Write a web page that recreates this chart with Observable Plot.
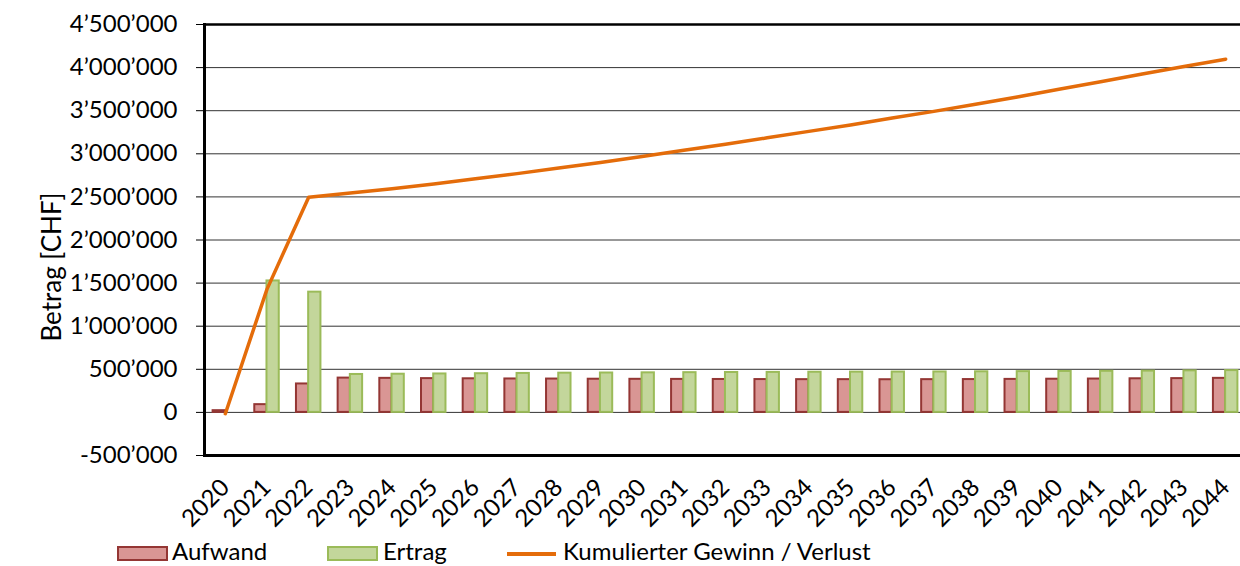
<!DOCTYPE html>
<html>
<head>
<meta charset="utf-8">
<script src="https://cdn.jsdelivr.net/npm/d3@7"></script>
<script src="https://cdn.jsdelivr.net/npm/@observablehq/plot@0.6"></script>
<style>
  html, body { margin: 0; padding: 0; background: #fff; overflow: hidden; width: 1240px; height: 566px; }
  #chart svg { display: block; }
  #legend { position: relative; height: 26px; font-family: Lato, "Noto Sans", sans-serif; font-size: 24px; color: #000; }
  #legend .sw { position: absolute; box-sizing: border-box; }
  #legend .lb { position: absolute; top: -2px; line-height: 26px; white-space: nowrap; }
</style>
</head>
<body>
<div id="chart"></div>
<div id="legend"></div>
<script>
// ---- data ----
const years = [2020, 2021, 2022, 2023, 2024, 2025, 2026, 2027, 2028, 2029, 2030, 2031, 2032,
               2033, 2034, 2035, 2036, 2037, 2038, 2039, 2040, 2041, 2042, 2043, 2044];
const aufwand = [20000, 90000, 330000, 398000, 395000, 392000, 390000, 388000, 387000, 385000,
                 384000, 383000, 382000, 381000, 380000, 380000, 379000, 380000, 381000, 383000,
                 385000, 387000, 390000, 392000, 395000];
const ertrag = [0, 1525000, 1395000, 440000, 443000, 446000, 449000, 452000, 455000, 457000,
                459000, 461000, 463000, 464000, 466000, 467000, 468000, 469000, 471000, 473000,
                475000, 477000, 479000, 482000, 485000];
const kumuliert = [-15000, 1430000, 2497000, 2545000, 2595000, 2650000, 2710000, 2770000, 2835000,
                   2900000, 2968000, 3040000, 3110000, 3185000, 3260000, 3335000, 3415000, 3492000,
                   3575000, 3660000, 3748000, 3836000, 3925000, 4013000, 4098000];
const yTicks = [-500000, 0, 500000, 1000000, 1500000, 2000000, 2500000, 3000000, 3500000, 4000000, 4500000];
const seriesNames = ["Aufwand", "Ertrag", "Kumulierter Gewinn / Verlust"];
const yLabel = "Betrag [CHF]";

// ---- styles ----
const cAufFill = "#D99694", cAufStroke = "#943634";
const cErtFill = "#C3D69B", cErtStroke = "#9BBB59";
const cLine = "#E46C0A";
const font = "Lato, 'Noto Sans', sans-serif";

const rows = years.map((yr, i) => ({year: yr, aufwand: aufwand[i], ertrag: ertrag[i], kum: kumuliert[i]}));
const fmt = v => (v < 0 ? "-" : "") + String(Math.abs(v)).replace(/\B(?=(\d{3})+(?!\d))/g, "\u2019");

const plot = Plot.plot({
  width: 1240,
  height: 540,
  marginLeft: 204,
  marginRight: 0,
  marginTop: 24,
  marginBottom: 85,
  style: {fontFamily: font, fontSize: "24px", color: "#000", background: "#fff", overflow: "visible"},
  x: {type: "band", domain: years, range: [204, 1246], padding: 0, round: false},
  y: {domain: [-500000, 4500000]},
  marks: [
    Plot.ruleY(yTicks, {stroke: "#333", strokeWidth: 1}),
    Plot.barY(rows, {x: "year", y: "aufwand", fill: cAufFill, stroke: cAufStroke, strokeWidth: 2, insetLeft: 8.6, insetRight: 20.8}),
    Plot.barY(rows.filter(d => d.ertrag > 0), {x: "year", y: "ertrag", fill: cErtFill, stroke: cErtStroke, strokeWidth: 2, insetLeft: 20.8, insetRight: 8.6}),
    Plot.line(rows, {x: "year", y: "kum", stroke: cLine, strokeWidth: 3.5}),
    Plot.ruleY([yTicks[yTicks.length - 1]], {stroke: "#000", strokeWidth: 2.5}),
    Plot.ruleY([yTicks[0]], {stroke: "#000", strokeWidth: 3}),
    Plot.frame({anchor: "left", stroke: "#000", strokeWidth: 3}),
    Plot.axisY({ticks: yTicks, tickFormat: fmt, tickSize: 8, tickPadding: 19, fontSize: 24, label: null}),
    Plot.text([yLabel], {frameAnchor: "left", textAnchor: "middle", rotate: -90, dx: -152, dy: 27, fontSize: 26, fill: "#000"}),
    Plot.axisX({tickSize: 0, tickRotate: -45, tickPadding: 28, tickFormat: d => String(d), fontSize: 24, label: null})
  ]
});
document.getElementById("chart").appendChild(plot);

// ---- legend ----
const legend = document.getElementById("legend");
const items = [
  {name: seriesNames[0], kind: "box", fill: cAufFill, stroke: cAufStroke, sx: 117, tx: 172},
  {name: seriesNames[1], kind: "box", fill: cErtFill, stroke: cErtStroke, sx: 327, tx: 383},
  {name: seriesNames[2], kind: "line", stroke: cLine, sx: 507, tx: 563}
];
for (const it of items) {
  const sw = document.createElement("div");
  sw.className = "sw";
  if (it.kind === "box") {
    Object.assign(sw.style, {left: it.sx + "px", top: "6px", width: "51px", height: "15px",
      background: it.fill, border: "2px solid " + it.stroke});
  } else {
    Object.assign(sw.style, {left: it.sx + "px", top: "12px", width: "49px", height: "3.5px", background: it.stroke});
  }
  legend.appendChild(sw);
  const lb = document.createElement("div");
  lb.className = "lb";
  lb.style.left = it.tx + "px";
  lb.textContent = it.name;
  legend.appendChild(lb);
}
</script>
</body>
</html>
